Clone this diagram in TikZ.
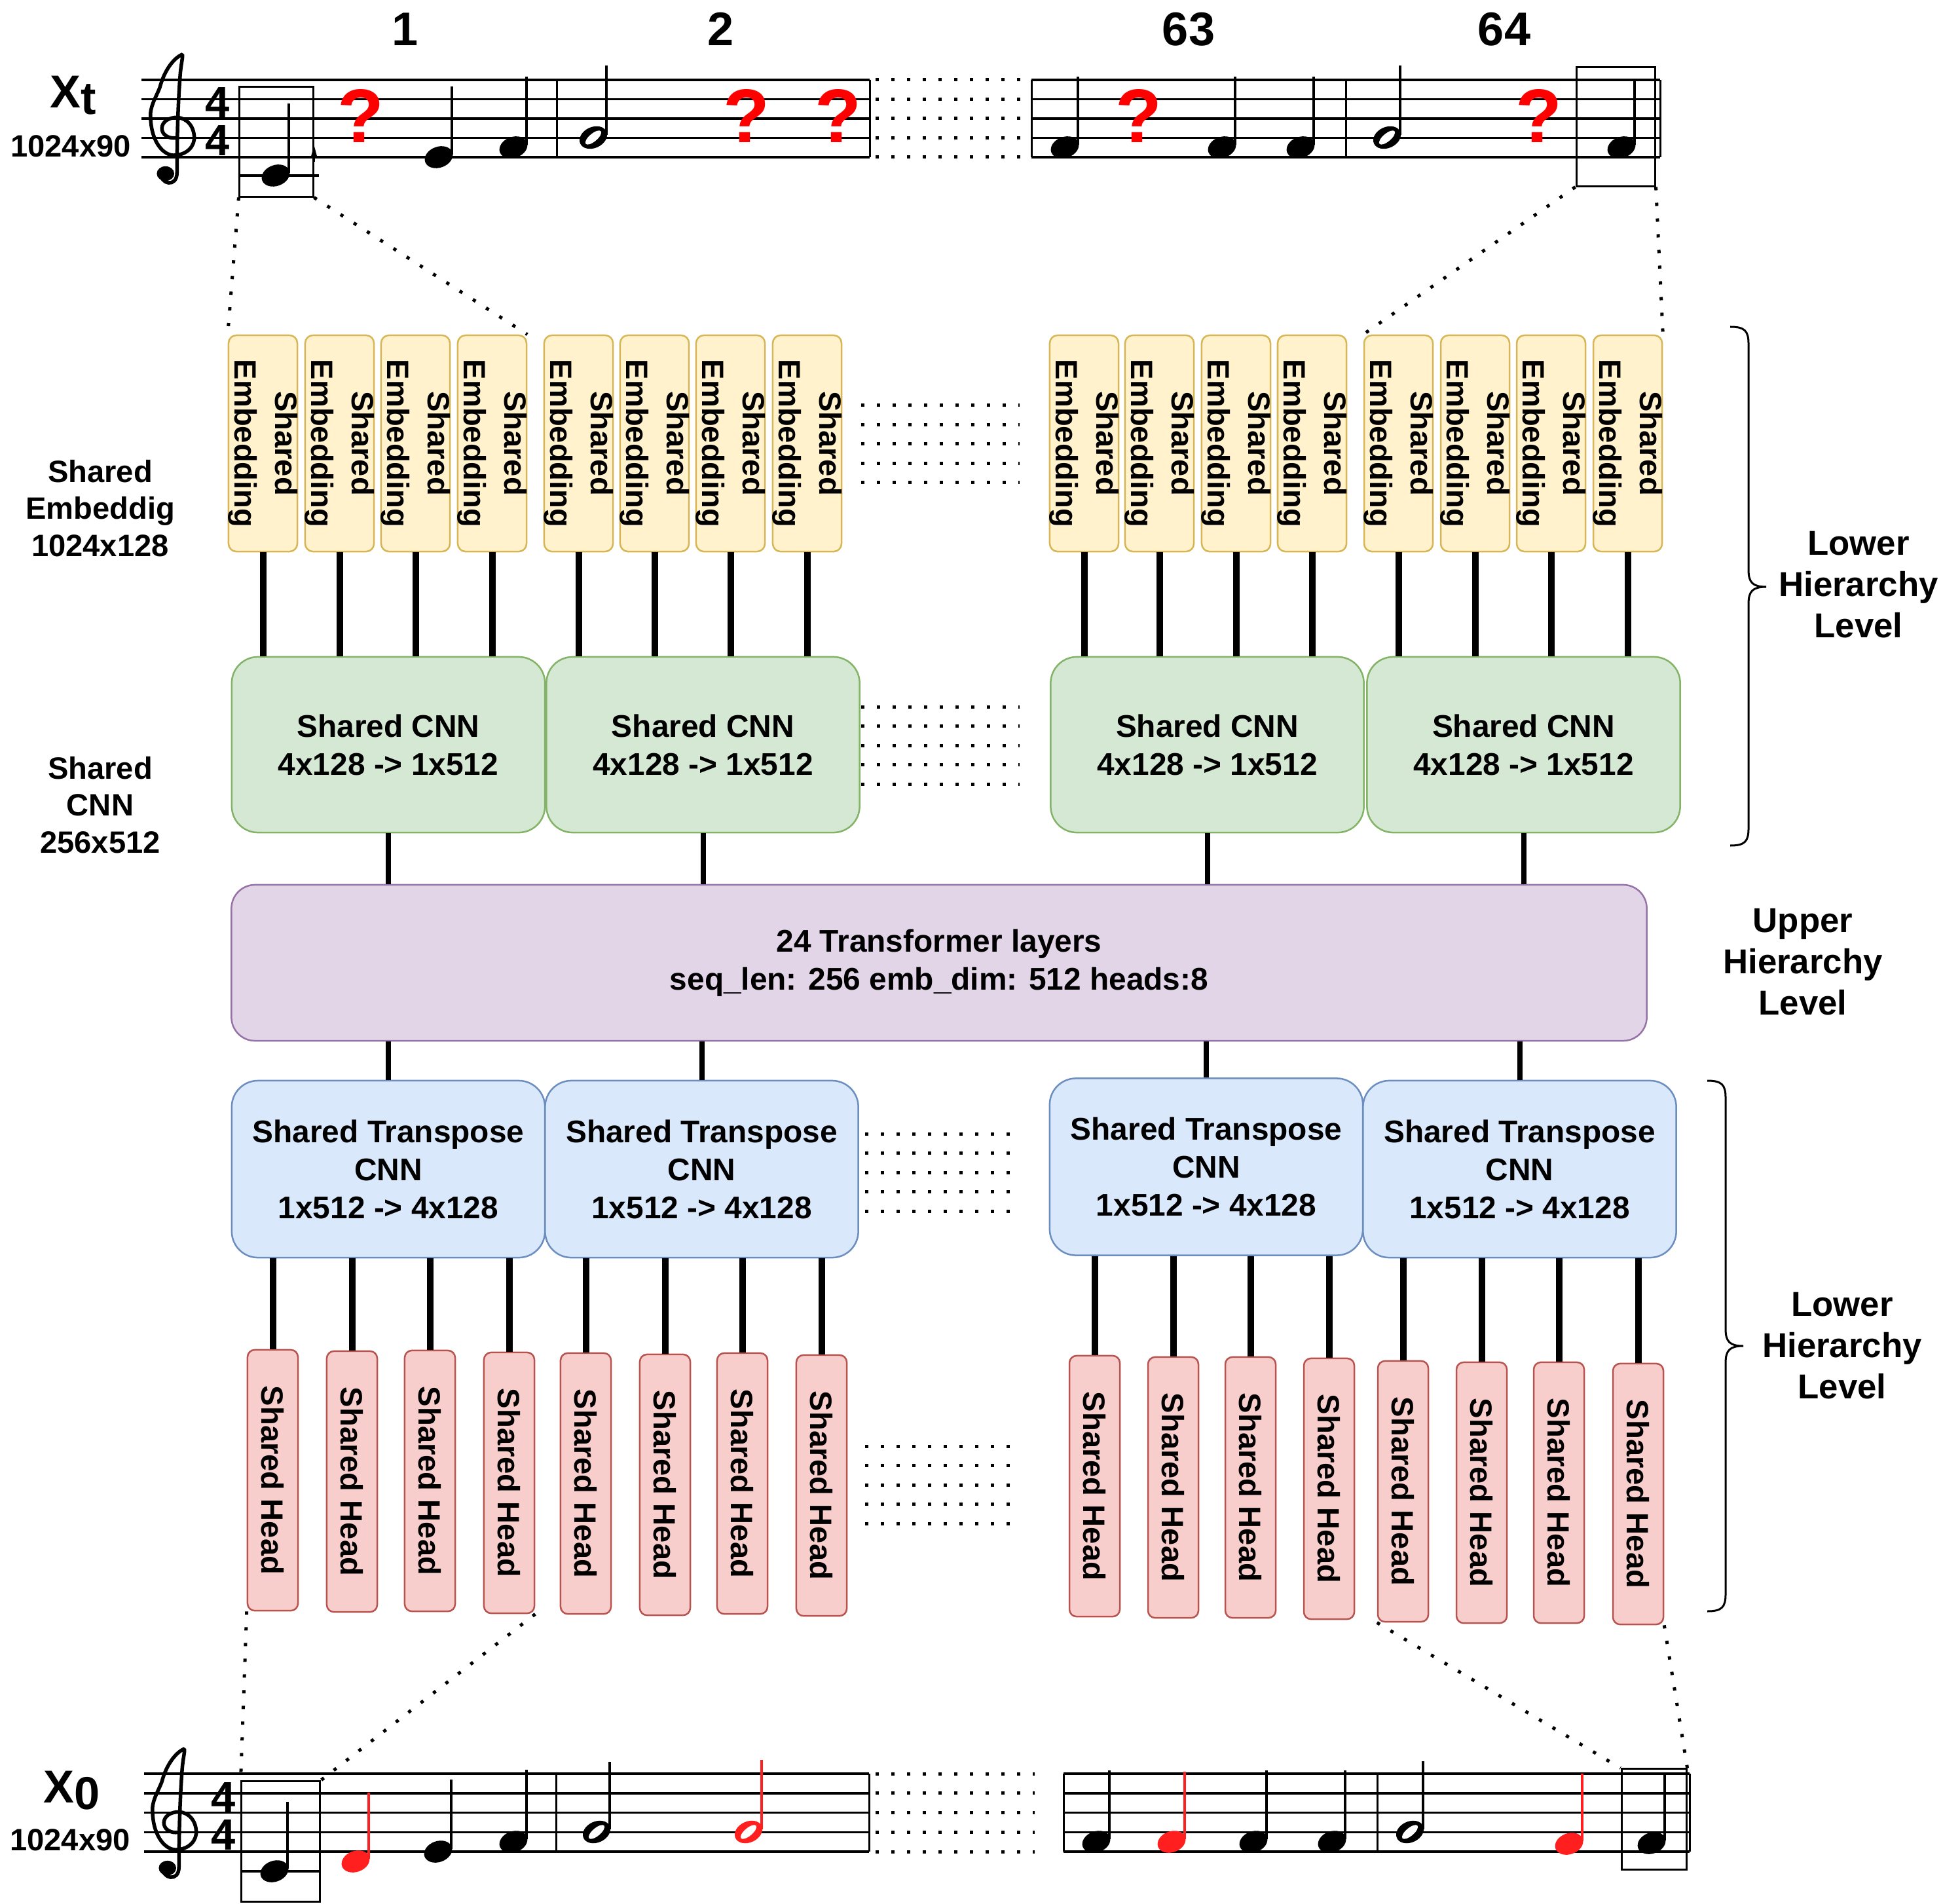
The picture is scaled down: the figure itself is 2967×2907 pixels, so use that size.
\documentclass[tikz,border=0pt]{standalone}
\usepackage{fontspec}
\setmainfont{Liberation Sans}
\usetikzlibrary{arrows.meta}
\definecolor{embF}{HTML}{FFF2CC}\definecolor{embD}{HTML}{D6B656}
\definecolor{cnnF}{HTML}{D5E8D4}\definecolor{cnnD}{HTML}{82B366}
\definecolor{trF}{HTML}{E1D5E7}\definecolor{trD}{HTML}{9673A6}
\definecolor{tpF}{HTML}{DAE8FC}\definecolor{tpD}{HTML}{6C8EBF}
\definecolor{hdF}{HTML}{F8CECC}\definecolor{hdD}{HTML}{B85450}
\definecolor{qred}{HTML}{FF0000}
\definecolor{nred}{HTML}{FF1F1F}
\newcommand{\fntBox}{\fontsize{13.6pt}{16.5pt}\selectfont\bfseries}
\newcommand{\fntEmb}{\fontsize{13.4pt}{17.4pt}\selectfont\bfseries}
\newcommand{\fntLeft}{\fontsize{13.4pt}{16.1pt}\selectfont\bfseries}
\newcommand{\fntRight}{\fontsize{15pt}{17.9pt}\selectfont\bfseries}
\newcommand{\fntNum}{\fontsize{20.5pt}{24pt}\selectfont\bfseries}
\newcommand{\fntX}{\fontsize{20pt}{24pt}\selectfont\bfseries}
\newcommand{\fntTime}{\fontsize{19pt}{22pt}\selectfont\bfseries}
\newcommand{\fntQ}{\fontsize{33pt}{38pt}\selectfont\bfseries}
% quarter note: [colour]{x}{y}{stem top}
\newcommand{\qnote}[4][black]{%
  \fill[#1,rotate around={20:(#2,#3)}] (#2,#3) ellipse [x radius=22, y radius=16];
  \draw[#1,line width=0.035cm] (#2+20,#3-4) -- (#2+20,#4);}
% half note
\newcommand{\hnote}[4][black]{%
  \fill[#1,rotate around={25:(#2,#3)}] (#2,#3) ellipse [x radius=22, y radius=16];
  \fill[white,rotate around={40:(#2,#3)}] (#2,#3) ellipse [x radius=15, y radius=6];
  \draw[#1,line width=0.035cm] (#2+20,#3-4) -- (#2+20,#4);}
% treble clef at (stem x, bottom line y)
\newcommand{\gclef}[2]{%
  \begin{scope}[shift={(#1,#2)},x=0.35cm,y=0.295cm]
  \draw[line width=0.055cm,line cap=round]
   (-0.55,-0.8) .. controls (-0.6,-1.4) and (0.15,-1.6) .. (0.15,-0.8)
   .. controls (0.15,1.0) and (0.2,3.0) .. (0.3,4.4)
   .. controls (0.35,5.0) and (0.45,5.35) .. (0.35,5.3)
   .. controls (0.0,5.1) and (-0.4,4.5) .. (-0.6,3.6)
   .. controls (-0.8,3.0) and (-1.05,2.6) .. (-1.0,2.0)
   .. controls (-0.95,0.7) and (-0.4,0.1) .. (0.0,0.1)
   .. controls (0.6,0.1) and (0.95,0.6) .. (0.9,1.1)
   .. controls (0.85,1.8) and (0.4,2.1) .. (0.05,2.05)
   .. controls (-0.35,2.0) and (-0.55,1.7) .. (-0.5,1.4)
   .. controls (-0.45,1.1) and (-0.15,0.95) .. (0.1,1.0);
  \fill (-0.35,-0.85) circle (0.38);
  \end{scope}}
\tikzset{
  embbox/.style={draw=embD,fill=embF,line width=0.025cm,rounded corners=0.12cm,minimum width=1.05cm,minimum height=3.3cm,inner sep=0},
  embtxt/.style={rotate=-90,align=center,font=\fntEmb,inner sep=0},
  headbox/.style={draw=hdD,fill=hdF,line width=0.025cm,rounded corners=0.11cm,minimum width=0.77cm,minimum height=3.98cm,inner sep=0},
  headtxt/.style={rotate=-90,font=\fntEmb,inner sep=0},
  cnnbox/.style={draw=cnnD,fill=cnnF,line width=0.025cm,rounded corners=0.4cm,minimum width=4.78cm,minimum height=2.68cm,align=center,font=\fntBox,inner sep=0},
  tpbox/.style={draw=tpD,fill=tpF,line width=0.025cm,rounded corners=0.4cm,minimum width=4.78cm,minimum height=2.7cm,align=center,font=\fntBox,inner sep=0},
  trbox/.style={draw=trD,fill=trF,line width=0.025cm,rounded corners=0.36cm,minimum width=21.6cm,minimum height=2.38cm,align=center,font=\fntBox,inner sep=0},
  conn/.style={line width=0.1cm},
  tconn/.style={line width=0.08cm},
  dotline/.style={line width=0.05cm,dash pattern=on 0.05cm off 0.19cm},
  staffline/.style={line width=0.035cm},
  barline/.style={line width=0.03cm},
  hbox/.style={draw,line width=0.03cm,inner sep=0},
  brace/.style={line width=0.03cm},
  lefttxt/.style={align=center,font=\fntLeft,inner sep=0},
  righttxt/.style={align=center,font=\fntRight,inner sep=0},
  qmark/.style={text=qred,font=\fntQ,anchor=base,inner sep=0},
  numtxt/.style={font=\fntNum,anchor=base,inner sep=0},
  timetxt/.style={font=\fntTime,anchor=base,inner sep=0,text height=0.47cm,text depth=0cm}
}
\begin{document}
\begin{tikzpicture}[x=0.01cm,y=-0.01cm]
\useasboundingbox (0,0) rectangle (2967,2907);

% ---------- top staff ----------
\foreach \k in {0,...,4}{
  \draw[staffline] (216,122+29.5*\k) -- (1328,122+29.5*\k);
  \draw[staffline] (1575,122+29.5*\k) -- (2535,122+29.5*\k);
  \draw[dotline] (1337,122+29.5*\k) -- (1561,122+29.5*\k);
}
\draw[barline] (850,122) -- (850,240);
\draw[barline] (1328,122) -- (1328,240);
\draw[barline] (1575,122) -- (1575,240);
\draw[barline] (2055,122) -- (2055,240);
\draw[barline] (2535,122) -- (2535,240);
\gclef{265}{240}
\node[timetxt] (ts1) at (332,180) {4};
\node[timetxt] (ts2) at (332,238) {4};
\node[anchor=base west,font=\fntX,inner sep=0] (xt) at (76,165) {X\raisebox{-0.1cm}{t}};
\node[anchor=base,font=\fntLeft,inner sep=0] (xtd) at (108,240) {1024x90};
\node[numtxt] (n1) at (619,70) {1};
\node[numtxt] (n2) at (1101,70) {2};
\node[numtxt] (n63) at (1815,70) {63};
\node[numtxt] (n64) at (2297,70) {64};

\node[hbox,minimum width=1.12cm,minimum height=1.67cm] (bxA) at (422,216.5) {};
\draw[staffline] (366,268) -- (487,268);
\qnote{421}{268}{158}
\draw[line width=0.02cm,-{Triangle[length=0.2cm,width=0.1cm]}] ([yshift=-0.3cm]bxA.east) -- ([yshift=-0.05cm]bxA.east);
\node[qmark] (q1) at (551,218) {?};
\qnote{670}{240}{132}
\qnote{784}{225}{117}
\hnote{906}{210}{100}
\node[qmark] (q2) at (1140,218) {?};
\node[qmark] (q3) at (1280,218) {?};

\qnote{1626}{225}{117}
\node[qmark] (q4) at (1739,218) {?};
\qnote{1866}{225}{117}
\qnote{1986}{225}{117}
\hnote{2118}{210}{100}
\node[qmark] (q5) at (2350,218) {?};
\node[hbox,minimum width=1.2cm,minimum height=1.81cm] (bxB) at (2467,193.5) {};
\qnote{2476}{225}{121}

% ---------- embeddings ----------
\foreach \i/\x in {1/401.5,2/518.5,3/634.5,4/751.5,5/883.5,6/999.5,7/1115.5,8/1232.5,9/1655.5,10/1770.5,11/1887.5,12/2003.5,13/2135.5,14/2252.5,15/2368.5,16/2485.5}{
  \node[embbox] (e\i) at (\x,677) {};
  \node[embtxt] (et\i) at (e\i) {Shared\\Embedding};
}
\foreach \k in {0,...,4}{
  \draw[dotline] (1315,619+29.5*\k) -- (1557,619+29.5*\k);
  \draw[dotline] (1315,1079+29.5*\k) -- (1557,1079+29.5*\k);
  \draw[dotline] (1321,1731+29.5*\k) -- (1560,1731+29.5*\k);
  \draw[dotline] (1321,2208+29.5*\k) -- (1560,2208+29.5*\k);
}

% ---------- CNN ----------
\node[cnnbox] (c1) at (593,1137) {Shared CNN\\4x128 -> 1x512};
\node[cnnbox] (c2) at (1073.5,1137) {Shared CNN\\4x128 -> 1x512};
\node[cnnbox] (c3) at (1843.5,1137) {Shared CNN\\4x128 -> 1x512};
\node[cnnbox] (c4) at (2326.5,1137) {Shared CNN\\4x128 -> 1x512};

\foreach \i/\c in {1/c1,2/c1,3/c1,4/c1,5/c2,6/c2,7/c2,8/c2,9/c3,10/c3,11/c3,12/c3,13/c4,14/c4,15/c4,16/c4}{
  \draw[conn] (e\i.south) -- (e\i.south |- \c.north);
}

% ---------- transformer ----------
\node[trbox] (tr) at (1434,1470) {24 Transformer layers\\seq\_len: 256 emb\_dim: 512 heads:8};
\foreach \c in {c1,c2,c3,c4}{
  \draw[tconn] (\c.south) -- (\c.south |- tr.north);
}

% ---------- transpose CNN ----------
\node[tpbox] (tp1) at (593,1785) {Shared Transpose\\CNN\\1x512 -> 4x128};
\node[tpbox] (tp2) at (1071.5,1785) {Shared Transpose\\CNN\\1x512 -> 4x128};
\node[tpbox] (tp3) at (1842,1781.5) {Shared Transpose\\CNN\\1x512 -> 4x128};
\node[tpbox] (tp4) at (2320.5,1785) {Shared Transpose\\CNN\\1x512 -> 4x128};
\foreach \c in {tp1,tp2,tp3,tp4}{
  \draw[tconn] (\c.north |- tr.south) -- (\c.north);
}

% ---------- heads ----------
\foreach \i/\x/\t/\c in {1/378/2061/tp1,2/499/2063/tp1,3/618/2062/tp1,4/739/2065/tp1,5/856/2066/tp2,6/977/2068/tp2,7/1095/2066/tp2,8/1216/2069/tp2,9/1633/2070/tp3,10/1753/2072/tp3,11/1871/2072/tp3,12/1991/2074/tp3,13/2104/2078/tp4,14/2224/2080/tp4,15/2342/2080/tp4,16/2463/2082/tp4}{
  \node[headbox] (h\i) at (\x+38.5,\t+199) {};
  \node[headtxt] (ht\i) at (h\i) {Shared Head};
  \draw[conn] (h\i.north |- \c.south) -- (h\i.north);
}

% ---------- labels ----------
\node[lefttxt] (lab1) at (153,776) {Shared\\Embeddig\\1024x128};
\node[lefttxt] (lab2) at (153,1229) {Shared\\CNN\\256x512};
\node[righttxt] (lv1) at (2838,893) {Lower\\Hierarchy\\Level};
\node[righttxt] (lv2) at (2753,1469) {Upper\\Hierarchy\\Level};
\node[righttxt] (lv3) at (2813,2055) {Lower\\Hierarchy\\Level};

\draw[brace] (2642,499) .. controls (2664,499) and (2670,505) .. (2670,525) -- (2670,870)
  .. controls (2670,889) and (2676,896) .. (2697,896)
  .. controls (2676,896) and (2670,903) .. (2670,922) -- (2670,1265)
  .. controls (2670,1285) and (2664,1291) .. (2642,1291);
\draw[brace] (2607,1650) .. controls (2629,1650) and (2635,1656) .. (2635,1676) -- (2635,2029)
  .. controls (2635,2048) and (2641,2055) .. (2662,2055)
  .. controls (2641,2055) and (2635,2062) .. (2635,2081) -- (2635,2434)
  .. controls (2635,2454) and (2629,2460) .. (2607,2460);

% ---------- bottom staff ----------
\foreach \k in {0,...,4}{
  \draw[staffline] (220,2708+29.75*\k) -- (1327,2708+29.75*\k);
  \draw[staffline] (1624,2708+29.75*\k) -- (2580,2708+29.75*\k);
  \draw[dotline] (1337,2708+29.75*\k) -- (1580,2708+29.75*\k);
}
\draw[barline] (849,2708) -- (849,2827);
\draw[barline] (1327,2708) -- (1327,2827);
\draw[barline] (1624,2708) -- (1624,2827);
\draw[barline] (2103,2708) -- (2103,2827);
\draw[barline] (2580,2708) -- (2580,2827);
\gclef{268}{2827}
\node[timetxt] (ts3) at (341,2767) {4};
\node[timetxt] (ts4) at (341,2824) {4};
\node[anchor=base west,font=\fntX,inner sep=0] (x0) at (66,2752) {X\raisebox{-0.1cm}{0}};
\node[anchor=base,font=\fntLeft,inner sep=0] (x0d) at (107,2825) {1024x90};

\node[hbox,minimum width=1.19cm,minimum height=1.83cm] (bxC) at (428.5,2811.5) {};
\draw[staffline] (369,2857) -- (488,2857);
\qnote{419}{2857}{2751}
\qnote[nred]{543}{2842}{2737}
\qnote{669}{2827}{2717}
\qnote{784}{2812}{2702}
\hnote{911}{2797}{2690}
\hnote[nred]{1143}{2797}{2687}

\qnote{1674}{2812}{2703}
\qnote[nred]{1789}{2812}{2705}
\qnote{1914}{2812}{2703}
\qnote{2034}{2812}{2703}
\hnote{2153}{2797}{2689}
\qnote[nred]{2396}{2815}{2708}
\node[hbox,minimum width=0.99cm,minimum height=1.53cm] (bxD) at (2525.5,2777.5) {};
\qnote{2522}{2814}{2708}

% ---------- dotted zoom lines ----------
\draw[dotline] (bxA.south west) -- (e1.north west);
\draw[dotline] (bxA.south east) -- (e4.north east);
\draw[dotline] (bxB.south west) -- (e13.north west);
\draw[dotline] (bxB.south east) -- (e16.north east);
\draw[dotline] (h1.south west) -- (bxC.north west);
\draw[dotline] (h4.south east) -- (bxC.north east);
\draw[dotline] (h13.south west) -- (bxD.north west);
\draw[dotline] (h16.south east) -- (bxD.north east);
\end{tikzpicture}
\end{document}
